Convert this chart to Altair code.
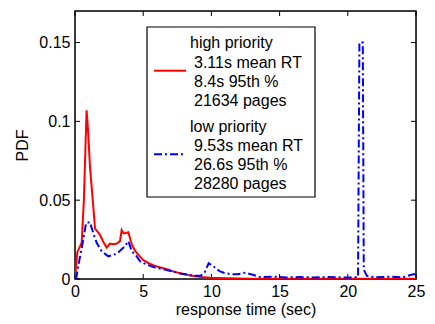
import altair as alt
import pandas as pd

# High priority (red) PDF
high_x = [0, 0.17, 0.49, 0.65, 0.85, 0.95, 1.1, 1.3, 1.47, 1.65, 1.83, 2.05, 2.32, 2.57, 2.8, 3.06, 3.3, 3.42, 3.55, 3.67, 3.91, 4.16, 4.4, 4.64, 5.0,
          5.4, 5.8, 6.2, 6.8, 7.3, 7.8, 8.3, 8.8, 9.3, 9.9, 10.5, 11.2, 12, 13, 14, 15, 16, 18, 20, 22, 25]
high_y = [0, 0.017, 0.023, 0.05, 0.107, 0.095, 0.071, 0.05, 0.032, 0.030, 0.028, 0.024, 0.020, 0.0225, 0.022, 0.0225, 0.024, 0.031, 0.029, 0.029, 0.0296, 0.022, 0.018, 0.0155, 0.012,
          0.010, 0.0085, 0.0075, 0.006, 0.0045, 0.0035, 0.0025, 0.0018, 0.0012, 0.0008, 0.0006, 0.0004, 0.0003, 0.0002, 0.0002, 0.0001, 0.0001, 0.0001, 0.0001, 0.0001, 0.0001]

# Low priority (blue) PDF
low_x = [0, 0.1, 0.32, 0.61, 0.81, 1.1, 1.34, 1.59, 1.95, 2.44, 3.06, 3.67, 3.91, 4.16, 4.52, 4.8, 5.3, 5.8, 6.3, 6.8, 7.3, 7.7, 8.2, 8.7, 9.2, 9.5, 9.8, 10.15, 10.6, 10.9, 11.4, 11.9,
         12.5, 13.1, 13.6, 14.5, 15.5, 16.5, 17.5, 18.5, 19.5, 20.4, 20.75, 20.85, 21.1, 21.17, 21.4, 22, 23, 24, 24.8, 25]
low_y = [0, 0.001, 0.012, 0.025, 0.0356, 0.036, 0.029, 0.023, 0.0176, 0.0144, 0.016, 0.0208, 0.024, 0.0176, 0.0144, 0.011, 0.009, 0.0075, 0.0065, 0.0055, 0.0045, 0.0035, 0.0028, 0.002, 0.002, 0.004, 0.010, 0.008, 0.005, 0.004, 0.003, 0.003,
         0.004, 0.0025, 0.0012, 0.0015, 0.001, 0.0012, 0.001, 0.0012, 0.001, 0.001, 0.0012, 0.15, 0.15, 0.006, 0.002, 0.001, 0.0015, 0.001, 0.003, 0.003]

x_ticks = [0, 5, 10, 15, 20, 25]
y_ticks = [0, 0.05, 0.1, 0.15]

legend_lines = ["high priority", "3.11s mean RT", "8.4s 95th %", "21634 pages",
                "low priority", "9.53s mean RT", "26.6s 95th %", "28280 pages"]

W, H = 341, 268
FONT = "Liberation Sans"

df = pd.concat([
    pd.DataFrame({"t": high_x, "pdf": high_y, "series": "high", "order": range(len(high_x))}),
    pd.DataFrame({"t": low_x, "pdf": low_y, "series": "low", "order": range(len(low_x))}),
])

xs = alt.Scale(domain=[0, 25], nice=False)
ys = alt.Scale(domain=[0, 0.17], nice=False)

xaxis = alt.Axis(values=x_ticks, ticks=False, domain=False, grid=False, labelFontSize=16,
                 labelFont=FONT, labelColor="black", labelPadding=4, title="response time (sec)",
                 titleFont=FONT, titleFontSize=16, titleFontWeight="normal", titleColor="black",
                 titlePadding=2, labelFlush=False)
yaxis = alt.Axis(values=y_ticks, ticks=False, domain=False, grid=False, labelFontSize=16,
                 labelFont=FONT, labelColor="black", labelPadding=5, title="PDF", format=".2~f",
                 titleFont=FONT, titleFontSize=16, titleFontWeight="normal", titleColor="black",
                 titlePadding=8, labelFlush=False)

one = pd.DataFrame({"a": [0]})
frame = alt.Chart(one).mark_rect(fillOpacity=0, stroke="black", strokeWidth=1.5).encode(
    x=alt.value(0), x2=alt.value(W), y=alt.value(0), y2=alt.value(H))

high = alt.Chart(df[df.series == "high"]).mark_line(color="#ff0000", strokeWidth=2, clip=True).encode(
    x=alt.X("t:Q", scale=xs, axis=xaxis),
    y=alt.Y("pdf:Q", scale=ys, axis=yaxis),
    order="order:Q",
)
low = alt.Chart(df[df.series == "low"]).mark_line(color="#0000ff", strokeWidth=2, strokeDash=[8, 3, 2, 3], clip=True).encode(
    x=alt.X("t:Q", scale=xs),
    y=alt.Y("pdf:Q", scale=ys),
    order="order:Q",
)

xt = pd.DataFrame({"v": x_ticks})
yt = pd.DataFrame({"v": y_ticks})
tick_bottom = alt.Chart(xt).mark_rule(color="black").encode(
    x=alt.X("v:Q", scale=xs), y=alt.value(H), y2=alt.value(H - 5))
tick_top = alt.Chart(xt).mark_rule(color="black").encode(
    x=alt.X("v:Q", scale=xs), y=alt.value(0), y2=alt.value(5))
tick_left = alt.Chart(yt).mark_rule(color="black").encode(
    y=alt.Y("v:Q", scale=ys), x=alt.value(0), x2=alt.value(5))
tick_right = alt.Chart(yt).mark_rule(color="black").encode(
    y=alt.Y("v:Q", scale=ys), x=alt.value(W), x2=alt.value(W - 5))

# Legend
box = alt.Chart(one).mark_rect(fill="white", stroke="black", strokeWidth=1.2).encode(
    x=alt.value(72), x2=alt.value(240), y=alt.value(16), y2=alt.value(186))
leg_red = alt.Chart(one).mark_rule(color="#ff0000", strokeWidth=2).encode(
    x=alt.value(79), x2=alt.value(111), y=alt.value(59.7))
leg_blue = alt.Chart(one).mark_rule(color="#0000ff", strokeWidth=2, strokeDash=[8, 3, 2, 3]).encode(
    x=alt.value(79), x2=alt.value(111), y=alt.value(143.3))

text_x = [115, 119, 119, 119, 115, 119, 119, 119]
text_y = [31.7, 51.7, 70.7, 89.5, 115.7, 134.5, 153.5, 172.5]
texts = []
for s, tx, ty in zip(legend_lines, text_x, text_y):
    texts.append(alt.Chart(pd.DataFrame({"s": [s]})).mark_text(
        align="left", baseline="middle", font=FONT, fontSize=16, color="black").encode(
        text="s:N", x=alt.value(tx), y=alt.value(ty)))

chart = alt.layer(frame, tick_bottom, tick_top, tick_left, tick_right, high, low, box, leg_red, leg_blue, *texts).properties(
    width=W, height=H,
    autosize=alt.AutoSizeParams(type="none"),
    padding={"left": 75, "top": 11, "right": 19, "bottom": 45},
).configure_view(stroke=None).configure(background="white")

chart.save("out.html", embed_options={"renderer": "svg", "actions": False})
